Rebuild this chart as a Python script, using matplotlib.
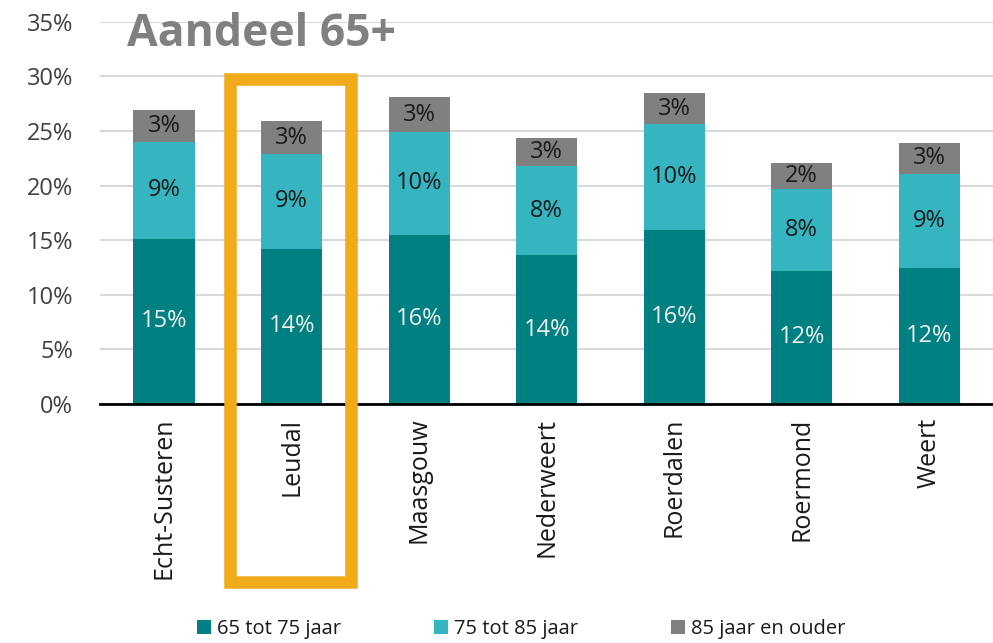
import matplotlib
matplotlib.use("Agg")
import matplotlib.pyplot as plt
from matplotlib.patches import Rectangle
import numpy as np

plt.rcParams['font.family'] = ['Open Sans', 'DejaVu Sans']

categories = ["Echt-Susteren", "Leudal", "Maasgouw", "Nederweert", "Roerdalen", "Roermond", "Weert"]
s65_75 = [15.1, 14.2, 15.5, 13.6, 15.9, 12.2, 12.4]
s75_85 = [8.9, 8.7, 9.4, 8.2, 9.7, 7.5, 8.7]
s85 = [2.9, 3.0, 3.2, 2.6, 2.9, 2.4, 2.8]
labels_65_75 = ["15%", "14%", "16%", "14%", "16%", "12%", "12%"]
labels_75_85 = ["9%", "9%", "10%", "8%", "10%", "8%", "9%"]
labels_85 = ["3%", "3%", "3%", "3%", "3%", "2%", "3%"]
series_names = ["65 tot 75 jaar", "75 tot 85 jaar", "85 jaar en ouder"]
colors = ["#008080", "#36B5C1", "#808080"]
yticks = [0, 5, 10, 15, 20, 25, 30, 35]

fig = plt.figure(figsize=(9.93, 6.43), dpi=100)
ax = fig.add_axes([0.101, 0.372, 0.899, 0.594])

x = np.arange(len(categories))
w = 0.48
a = np.array(s65_75); b = np.array(s75_85); c = np.array(s85)
ax.bar(x, a, w, color=colors[0], label=series_names[0], zorder=3)
ax.bar(x, b, w, bottom=a, color=colors[1], label=series_names[1], zorder=3)
ax.bar(x, c, w, bottom=a + b, color=colors[2], label=series_names[2], zorder=3)

for i in range(len(categories)):
    ax.text(x[i], a[i] / 2, labels_65_75[i], ha='center', va='center', color='#f0f0f0', fontsize=17, zorder=4)
    ax.text(x[i], a[i] + b[i] / 2, labels_75_85[i], ha='center', va='center', color='#1a1a1a', fontsize=17, zorder=4)
    ax.text(x[i], a[i] + b[i] + c[i] / 2, labels_85[i], ha='center', va='center', color='#1a1a1a', fontsize=17, zorder=4)

ax.set_xlim(-0.5, len(categories) - 0.5)
ax.set_ylim(0, 35)
ax.set_yticks(yticks)
ax.set_yticklabels([f"{t}%" for t in yticks], fontsize=17, color='#404040')
ax.set_xticks(x)
ax.set_xticklabels(categories, rotation=90, fontsize=18, color='#1a1a1a')
ax.tick_params(axis='both', length=0)
ax.tick_params(axis='y', pad=19.5)
ax.tick_params(axis='x', pad=10)
ax.grid(axis='y', color='#d9d9d9', linewidth=1.5, zorder=0)
for s in ['top', 'right', 'left']:
    ax.spines[s].set_visible(False)
ax.spines['bottom'].set_color('black')
ax.spines['bottom'].set_linewidth(2)
ax.spines['bottom'].set_zorder(5)

fig.text(0.128, 0.947, "Aandeel 65+", fontsize=32, fontweight='bold', color='#808080', ha='left', va='center')

# highlight box around Leudal
rect = Rectangle((230 / 993, 1 - 582 / 643), (351 - 230) / 993, (582 - 79) / 643,
                 transform=fig.transFigure, fill=False, edgecolor='#F0AA1A', linewidth=9, zorder=10)
fig.patches.append(rect)

leg = fig.legend(loc='center', bbox_to_anchor=(0.525, 0.022), ncol=3, frameon=False, fontsize=14.5,
                 handlelength=0.7, handleheight=0.7, handletextpad=0.3, columnspacing=4.6)
for t in leg.get_texts():
    t.set_color('#1a1a1a')

fig.savefig("out.png", dpi=100)
